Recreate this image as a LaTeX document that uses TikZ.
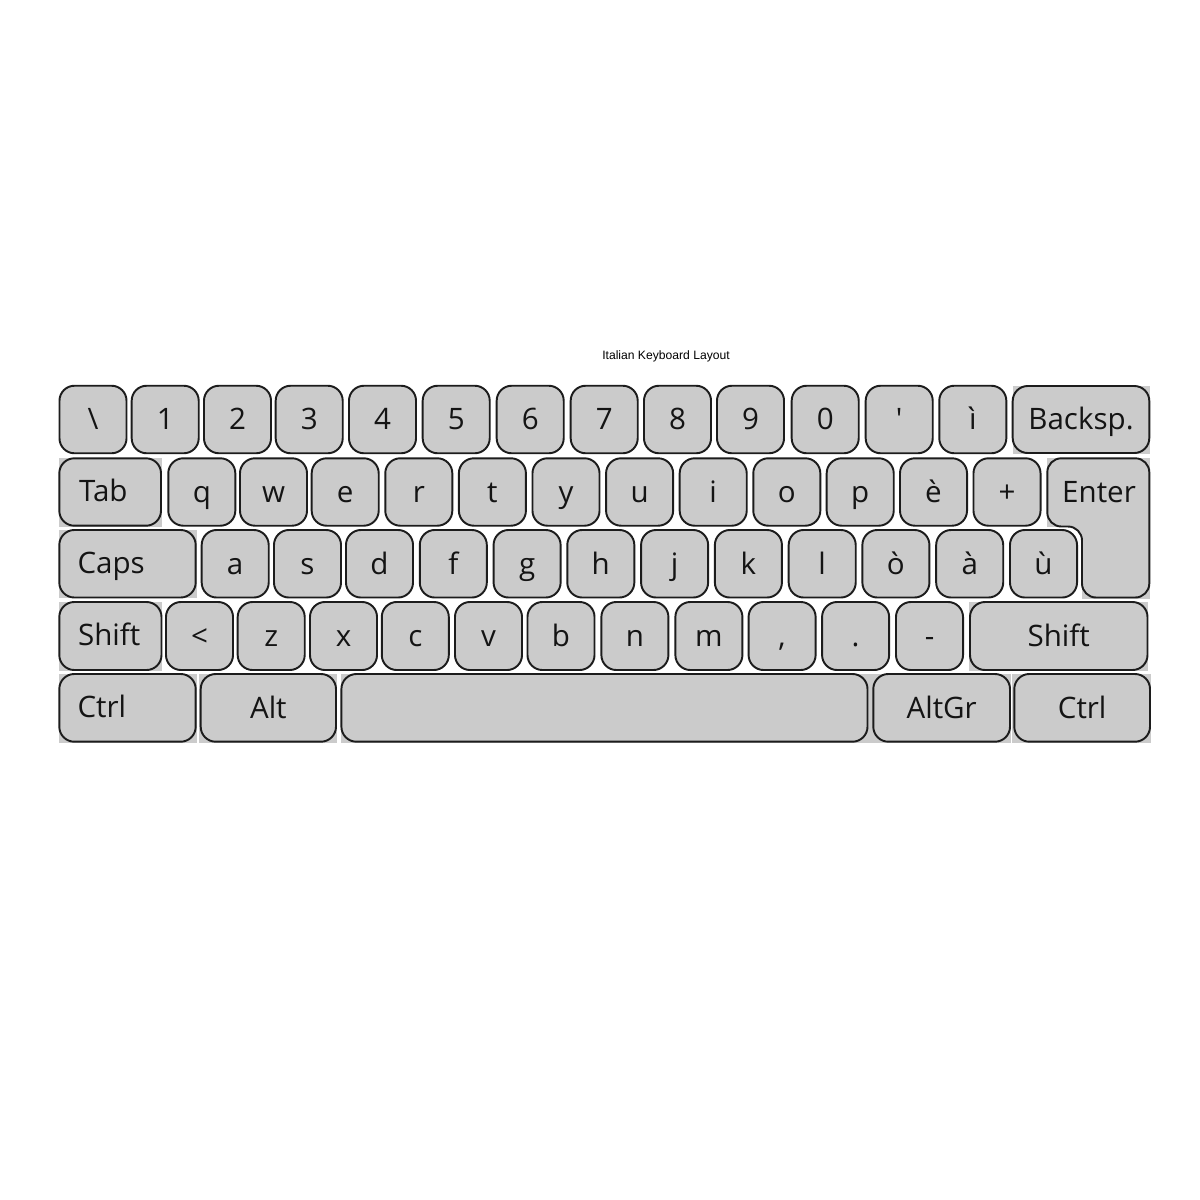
\documentclass[tikz,border=0pt]{standalone}
\usepackage{fontspec}
\usetikzlibrary{calc}
\newfontfamily\keyfontfam{Open Sans}
\newfontfamily\titlefontfam{Liberation Sans}
\newcommand\keyfont{\keyfontfam\fontsize{8.4}{10}\selectfont}
\newcommand\titlefont{\titlefontfam\fontsize{3.45}{4}\selectfont}
\newcommand\straightapos{\XeTeXglyph\XeTeXcharglyph"27\relax}
\definecolor{keyfill}{RGB}{203,203,203}
\definecolor{keyline}{RGB}{28,28,28}
\definecolor{keytext}{RGB}{20,20,20}
\tikzset{
  key/.style={draw=keyline, fill=keyfill, line width=0.55pt, rounded corners=0.15cm,
    inner sep=0pt, minimum width=0.67cm, minimum height=0.675cm,
    text height=0.26cm, text depth=0.054cm, font=\keyfont, text=keytext},
  keybg/.style={fill=keyfill, draw=none},
  lbl/.style={inner sep=0pt, font=\keyfont, text=keytext},
}
\newcommand\wkey[6]{% name, left, top, right, bottom, text
  \node[key, minimum width={(#4-#2)*0.01cm}, minimum height={(#5-#3)*0.01cm}] (#1) at ({(#2+#4)/2},{(#3+#5)/2}) {#6};}
\newcommand\kbg[4]{\fill[keybg] (#1,#2) rectangle (#3,#4);}
\begin{document}
\begin{tikzpicture}[x=0.01cm, y=-0.01cm]
\fill[white] (0,0) rectangle (1200,1200);
\useasboundingbox (0,0) rectangle (1200,1200);

\node[font=\titlefont, anchor=base, inner sep=0pt] (title) at (666,359) {Italian Keyboard Layout};

% backgrounds of the wide keys
\kbg{1012.5}{385.5}{1150}{454}
\kbg{58.8}{457.5}{162}{526.5}
\kbg{1046.8}{457.5}{1150}{527}
\kbg{1081.5}{527}{1150}{598.5}
\kbg{58.8}{529.5}{196.7}{598.3}
\kbg{58.8}{601.5}{162.3}{670.7}
\kbg{969.3}{601.5}{1148.3}{670.7}
\kbg{58.8}{673.5}{196.7}{742.5}
\kbg{199.3}{673.5}{336.7}{742.5}
\kbg{340.7}{673.5}{868.5}{742.5}
\kbg{868.5}{673.5}{1011}{742.5}
\kbg{1011.5}{673.5}{1151}{742.5}

% row 1
\foreach \l/\t [count=\i] in {59.5/\textbackslash, 131.7/1, 204/2, 275.7/3, 349/4, 422.7/5,
  496.7/6, 570.7/7, 644/8, 717/9, 791.7/0, 865.7/\straightapos, 939.3/ì}
  \node[key] (ra\i) at (\l+33.5,419.5) {\t};
\wkey{backsp}{1012.7}{386}{1149.3}{453}{Backsp.}

% row 2
\wkey{tab}{59.3}{458.3}{161}{525.7}{}
\node[lbl, anchor=base west] (tabt) at ($(tab.north west)+(20,44)$) {Tab};
\foreach \l/\t [count=\i] in {168.3/q, 240/w, 311.7/e, 385.3/r, 458.9/t, 532.5/y, 606.1/u,
  679.7/i, 753.3/o, 826.7/p, 900/è, 973.5/+}
  \node[key, minimum height=0.674cm] (rb\i) at (\l+33.5,492) {\t};
\draw[draw=keyline, fill=keyfill, line width=0.55pt, rounded corners=0.14cm]
  (1047.3,490) -- (1047.3,458.3) -- (1149.3,458.3) -- (1149.3,597.5) -- (1082,597.5)
  -- (1082,526.5) -- (1047.3,526.5) -- cycle;
\coordinate (enterc) at (1098.3,458.3);
\node[lbl, anchor=base] (entert) at ($(enterc)+(0.7,44)$) {Enter};

% row 3
\wkey{caps}{59.3}{530}{195.7}{597.5}{}
\node[lbl, anchor=base west] (capst) at ($(caps.north west)+(18.5,44)$) {Caps};
\foreach \l/\t [count=\i] in {201.7/a, 274/s, 346/d, 419.8/f, 493.6/g, 567.3/h, 641.1/j,
  714.9/k, 788.7/l, 862.4/ò, 936.2/à, 1010/ù}
  \node[key] (rc\i) at (\l+33.5,563.75) {\t};

% row 4
\wkey{lshift}{59.3}{602}{161.5}{670}{}
\node[lbl, anchor=base west] (lshiftt) at ($(lshift.north west)+(19,44.5)$) {Shift};
\foreach \l/\t [count=\i] in {166/<, 237.7/z, 310/x, 381.8/c, 455/v, 527.5/b, 601.4/n,
  675.4/m, 748.6/{,}, 822.1/., 896/-}
  \node[key, minimum height=0.68cm] (rd\i) at (\l+33.5,636) {\t};
\wkey{rshift}{970}{602}{1147.5}{670}{Shift}

% row 5
\wkey{lctrl}{59.3}{674}{195.7}{741.7}{}
\node[lbl, anchor=base west] (lctrlt) at ($(lctrl.north west)+(18.5,44.3)$) {Ctrl};
\wkey{alt}{200.7}{674}{336}{741.7}{Alt}
\wkey{space}{341.4}{674}{867.5}{741.7}{}
\wkey{altgr}{873.3}{674}{1010}{741.7}{AltGr}
\wkey{rctrl}{1014.3}{674}{1150}{741.7}{Ctrl}
\end{tikzpicture}
\end{document}
